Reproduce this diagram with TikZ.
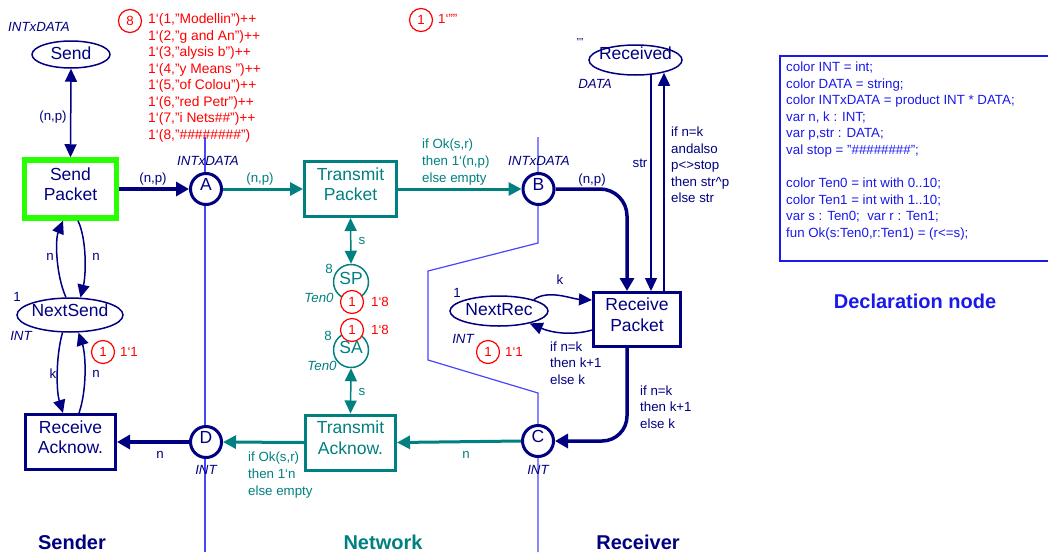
\documentclass[tikz,border=0pt]{standalone}
\usepackage{fontspec}
\setmainfont{Liberation Sans}
\usetikzlibrary{arrows.meta,shapes.geometric,calc,backgrounds}
\definecolor{navy}{RGB}{0,0,128}
\definecolor{cteal}{RGB}{0,128,128}
\definecolor{tokred}{RGB}{255,0,0}
\definecolor{pgreen}{RGB}{40,255,0}
\definecolor{zone}{RGB}{70,70,255}
\definecolor{decl}{RGB}{25,25,235}
\newcommand\cpnstrut{\rule[-10pt]{0pt}{10pt}}
\newcommand\cpnbig{\fontsize{17.5}{20.5}\selectfont}
\newcommand\cpnsmall{\fontsize{13.3}{16.6}\selectfont}
\newcommand\cpnbold{\fontsize{20}{24}\selectfont\bfseries}
\begin{document}
\begin{tikzpicture}[x=1pt,y=-1pt,
  lab/.style={font=\cpnsmall, inner sep=0pt, text=navy},
  typ/.style={font=\cpnsmall\itshape, inner sep=0pt, text=navy},
  bigname/.style={font=\cpnbig, inner sep=0pt, text=navy},
  transbox/.style={rectangle, draw=navy, line width=3pt, fill=white, align=center,
    inner sep=0pt, font=\cpnbig, text=navy, minimum width=90pt, minimum height=55pt},
  placecirc/.style={circle, draw=navy, line width=3pt, fill=white, minimum size=31pt,
    inner sep=0pt, font=\cpnbig, text=navy, text depth=10pt},
  placeell/.style={ellipse, draw=navy, line width=1.5pt, fill=white, inner sep=0pt},
  token/.style={circle, draw=tokred, line width=1.2pt, fill=white, minimum size=23pt,
    inner sep=0pt, text=tokred, font=\cpnsmall},
  toktext/.style={font=\cpnsmall, inner sep=0pt, text=tokred},
  thinarc/.style={draw=navy, line width=1.5pt, -{Triangle[length=13pt,width=12pt]}},
  thickarc/.style={draw=navy, line width=3.5pt, -{Triangle[length=13pt,width=14pt]}},
  netarc/.style={draw=cteal, line width=3pt, -{Triangle[length=13pt,width=13pt]}},
  netdouble/.style={draw=cteal, line width=1.5pt,
    {Triangle[length=13pt,width=12pt]}-{Triangle[length=13pt,width=12pt]}},
  zoneline/.style={draw=zone, line width=1.2pt},
  title/.style={font=\cpnbold, inner sep=0pt}
]
\useasboundingbox (0,0) rectangle (1048,552);

% ---------- Sender ----------
\node[placeell, minimum width=78pt, minimum height=27pt] (Send) at (71,54.5) {};
\node[bigname] (SendName) at (71,53.5) {Send};
\node[typ] (SendType) at (39,27) {INTxDATA};
\node[transbox, draw=pgreen, line width=5.5pt, minimum width=92pt, minimum height=58pt]
  (SendPacket) at (70.5,189) {Send\\Packet\cpnstrut};
\node[placeell, minimum width=106pt, minimum height=34pt] (NextSend) at (70,315) {};
\node[bigname] (NextSendName) at (70,310.5) {NextSend};
\node[lab] (NextSendInit) at (17,297) {1};
\node[typ] (NextSendType) at (21,336) {INT};
\node[token] (NextSendTok) at (103,352) {1};
\node[toktext] (NextSendMark) at (129,352) {1‘1};
\node[transbox] (RecvAck) at (70.5,442) {Receive\\Acknow.\cpnstrut};

% ---------- Network ----------
\node[placecirc] (A) at (206,189) {A};
\node[typ] (AType) at (208,161) {INTxDATA};
\node[transbox, draw=cteal, text=cteal, minimum width=92pt] (TransPacket) at (350.5,189) {Transmit\\Packet\cpnstrut};
\node[placecirc, draw=cteal, text=cteal, line width=1.5pt, minimum size=35pt, text depth=8pt] (SP) at (351,282) {SP};
\node[placecirc, draw=cteal, text=cteal, line width=1.5pt, minimum size=35pt, text depth=6pt] (SA) at (351,350) {SA};
\node[lab, text=cteal] (SPInit) at (329,269) {8};
\node[lab, text=cteal] (SAInit) at (328,336) {8};
\node[typ, text=cteal] (SPType) at (319,298) {Ten0};
\node[typ, text=cteal] (SAType) at (322,366) {Ten0};
\node[transbox, draw=cteal, text=cteal] (TransAck) at (350.5,442.5) {Transmit\\Acknow.\cpnstrut};
\node[placecirc] (D) at (206,442) {D};
\node[typ] (DType) at (206,470) {INT};

% ---------- Receiver ----------
\node[placecirc] (B) at (538.5,189) {B};
\node[typ] (BType) at (539,161) {INTxDATA};
\node[placecirc] (C) at (538,441) {C};
\node[typ] (CType) at (538,470) {INT};
\node[transbox, minimum width=87pt, minimum height=54pt] (RecvPacket) at (637,319.5) {Receive\\Packet\cpnstrut};
\node[placeell, minimum width=98pt, minimum height=30pt] (NextRec) at (499,311) {};
\node[bigname] (NextRecName) at (499,310) {NextRec};
\node[lab] (NextRecInit) at (457,293) {1};
\node[typ] (NextRecType) at (463,339) {INT};
\node[placeell, minimum width=93pt, minimum height=30pt] (Received) at (635.5,60) {};
\node[bigname] (ReceivedName) at (635.5,53.5) {Received};
\node[lab, font=\fontsize{10}{12}\selectfont] (ReceivedInit) at (580,42) {""};
\node[typ] (ReceivedType) at (595,84) {DATA};

% ---------- Boundaries between the three parts ----------
\begin{scope}[on background layer]
  \draw[zoneline] (205,137) -- (205,552);
  \draw[zoneline] (538,137) -- (538,243) -- (428,271) -- (428,360) -- (538,393) -- (538,552);
\end{scope}

% ---------- Arcs ----------
\draw[thinarc, {Triangle[length=13pt,width=12pt]}-{Triangle[length=13pt,width=12pt]}]
  (Send.south) -- (SendPacket.north);
\node[lab] (lSend) at (53,117) {(n,p)};
\draw[thickarc] (SendPacket.east) -- (A.west);
\node[lab] (lSPA) at (153,179) {(n,p)};
\draw[netarc] (A.east) -- (TransPacket.west);
\node[lab, text=cteal] (lATP) at (260,179) {(n,p)};
\draw[netarc] (TransPacket.east) -- (B.west);
\node[lab, text=cteal, anchor=west, align=left] (lTPB) at (422,162) {if Ok(s,r)\\then 1‘(n,p)\\else empty};
\draw[thickarc, rounded corners=27pt] (B.east) -| ($(RecvPacket.north)+(-10,0)$);
\node[lab] (lBRP) at (592,180) {(n,p)};

\coordinate (strIn) at ($(RecvPacket.north)+(14,0)$);
\coordinate (strOut) at ($(RecvPacket.north)+(27,0)$);
\coordinate (strInTop) at (strIn |- Received.south);
\coordinate (strOutTop) at (strOut |- Received.south);
\draw[thinarc] ($(strInTop)+(0,-1)$) -- (strIn);
\draw[thinarc] (strOut) -- ($(strOutTop)+(0,-3)$);
\node[lab] (lstr) at (640,163) {str};
\node[lab, anchor=west, align=left] (lupd) at (671,165)
  {if n=k\\andalso\\p<>stop\\then str\textasciicircum p\\else str};

\draw[thinarc] (NextRec.18) .. controls (548,289) and (572,299) .. ($(RecvPacket.west)+(0,-19.5)$);
\node[lab] (lk) at (560,280) {k};
\draw[thinarc] ($(RecvPacket.west)+(0,10.5)$) .. controls (575,335) and (555,334) .. (NextRec.-22);
\node[lab, anchor=west, align=left] (lnr) at (550,363) {if n=k\\then k+1\\else k};

\draw[thickarc, rounded corners=25pt] ($(RecvPacket.south)+(-10,0)$) |- (C.east);
\node[lab, anchor=west, align=left] (lrc) at (640,407) {if n=k\\then k+1\\else k};

\draw[netarc] (C.west) -- (TransAck.east);
\node[lab, text=cteal] (lCTA) at (466,455) {n};
\draw[netarc] (TransAck.west) -- (D.east);
\node[lab, text=cteal, anchor=west, align=left] (lTAD) at (248,475) {if Ok(s,r)\\then 1‘n\\else empty};
\draw[thickarc] (D.west) -- (RecvAck.east);
\node[lab] (lDRA) at (160,455) {n};

\draw[netdouble] (TransPacket.south) -- (SP.north);
\node[lab, text=cteal] (lsTP) at (362,241) {s};
\draw[netdouble] (SA.south) -- (TransAck.north);
\node[lab, text=cteal] (lsTA) at (362,392) {s};

\draw[thinarc] (NextSend.103) .. controls (56,275) and (55,240) .. ($(SendPacket.south)+(-7.5,0)$);
\draw[thinarc] ($(SendPacket.south)+(7.5,0)$) .. controls (87,240) and (86,275) .. (NextSend.59);
\draw[thinarc] (NextSend.-113) .. controls (56,355) and (56,390) .. ($(RecvAck.north)+(-7.5,0)$);
\draw[thinarc] ($(RecvAck.north)+(8.5,0)$) .. controls (87,390) and (86,355) .. (NextSend.-64);
\node[lab] (ln1) at (50,257) {n};
\node[lab] (ln2) at (96,257) {n};
\node[lab] (lk2) at (53,374) {k};
\node[lab] (ln3) at (96,374) {n};

% ---------- Markings ----------
\node[token] (SendTok) at (130,21) {8};
\node[toktext, anchor=west, align=left, font=\fontsize{13.8}{16.5}\selectfont] (SendMark) at (148,78)
  {1‘(1,"Modellin")++\\1‘(2,"g and An")++\\1‘(3,"alysis b")++\\1‘(4,"y Means ")++\\%
   1‘(5,"of Colou")++\\1‘(6,"red Petr")++\\1‘(7,"i Nets\#\#")++\\1‘(8,"\#\#\#\#\#\#\#\#")};
\node[token] (RecTok) at (421,20) {1};
\node[toktext, anchor=west] (RecMark) at (438,19) {1‘""};
\node[token] (SPTok) at (352,302) {1};
\node[toktext] (SPMark) at (380,302) {1‘8};
\node[token] (SATok) at (352,330) {1};
\node[toktext] (SAMark) at (380,330) {1‘8};
\node[token] (NextRecTok) at (488,352) {1};
\node[toktext] (NextRecMark) at (514,352) {1‘1};

% ---------- Declarations ----------
\draw[draw=decl, line width=2pt] (1052,56) -- (780,56) -- (780,261) -- (1052,261);
\node[anchor=west, align=left, inner sep=0pt, text=decl, font=\cpnsmall] (DeclText) at (786,151)
  {color INT = int;\\color DATA = string;\\color INTxDATA = product INT * DATA;\\%
   var n, k : INT;\\var p,str : DATA;\\val stop = "\#\#\#\#\#\#\#\#";\\[16.6pt]%
   color Ten0 = int with 0..10;\\color Ten1 = int with 1..10;\\%
   var s : Ten0;\ \ var r : Ten1;\\fun Ok(s:Ten0,r:Ten1) = (r<=s);};

% ---------- Part titles ----------
\node[title, text=navy] (tSender) at (72,542) {Sender};
\node[title, text=cteal] (tNetwork) at (383,542) {Network};
\node[title, text=navy] (tReceiver) at (638,542) {Receiver};
\node[title, text=decl] (tDecl) at (915,301) {Declaration node};
\end{tikzpicture}
\end{document}
